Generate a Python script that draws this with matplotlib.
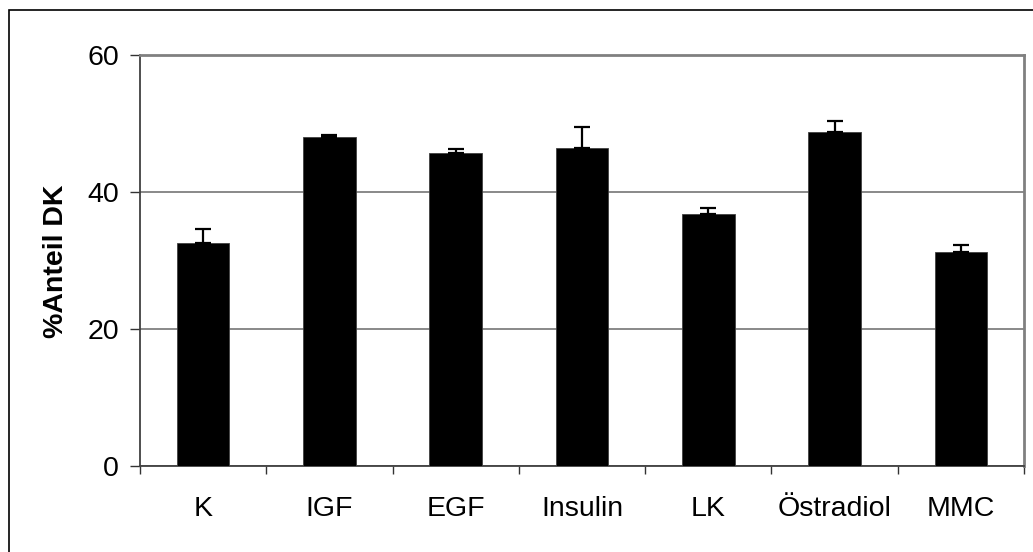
import matplotlib
matplotlib.use("Agg")
import matplotlib.pyplot as plt
from matplotlib.patches import Rectangle
import numpy as np

plt.rcParams['font.family'] = ['Liberation Sans', 'DejaVu Sans']

categories = ["K", "IGF", "EGF", "Insulin", "LK", "Östradiol", "MMC"]
values = [32.6, 48.1, 45.7, 46.5, 36.8, 48.8, 31.3]
errors = [2.1, 0.3, 0.6, 3.0, 0.9, 1.6, 1.0]
y_ticks = [0, 20, 40, 60]
y_label = "%Anteil DK"

fig = plt.figure(figsize=(10.33, 5.52), dpi=100)
ax = fig.add_axes([0.1355, 0.155, 0.9913 - 0.1355, 0.8998 - 0.155])

# outer chart frame (extends past the right and bottom edges)
fig.patches.append(Rectangle((8.5 / 1033, -0.05), 1.2, (552 - 10) / 552 + 0.05,
                             transform=fig.transFigure, fill=False,
                             edgecolor="black", linewidth=1.2, clip_on=False))

x = np.arange(len(categories))
lower = np.zeros(len(errors))
ax.bar(x, values, width=0.417, color="black", edgecolor="#404040",
       linewidth=0.6, zorder=3)
ax.errorbar(x, values, yerr=[lower, errors], fmt="none", ecolor="black",
            elinewidth=1.6, capsize=6, capthick=1.6, zorder=4)

ax.set_xlim(-0.5, len(categories) - 0.5)
ax.set_ylim(0, 60)
ax.set_yticks(y_ticks)
ax.yaxis.grid(True, color="#808080", linewidth=1.3, zorder=0)
ax.set_axisbelow(True)

# category boundaries get the tick marks, centres get the labels
ax.set_xticks(np.arange(len(categories) + 1) - 0.5)
ax.set_xticklabels([])
ax.set_xticks(x, minor=True)
ax.set_xticklabels(categories, minor=True)
ax.tick_params(axis="x", which="major", direction="out", length=6,
               width=1.0, color="#333333")
ax.tick_params(axis="x", which="minor", length=0, pad=21, labelsize=20.5)
ax.tick_params(axis="y", direction="out", length=7, width=1.0,
               color="#333333", pad=8, labelsize=20.5)

for side in ("top", "right"):
    ax.spines[side].set_color("#808080")
    ax.spines[side].set_linewidth(2.0)
ax.spines["left"].set_color("#404040")
ax.spines["left"].set_linewidth(1.3)
ax.spines["bottom"].set_color("#404040")
ax.spines["bottom"].set_linewidth(1.3)

ax.set_ylabel(y_label, fontsize=20.5, fontweight="bold", labelpad=13)

fig.savefig("out.png", dpi=100)
